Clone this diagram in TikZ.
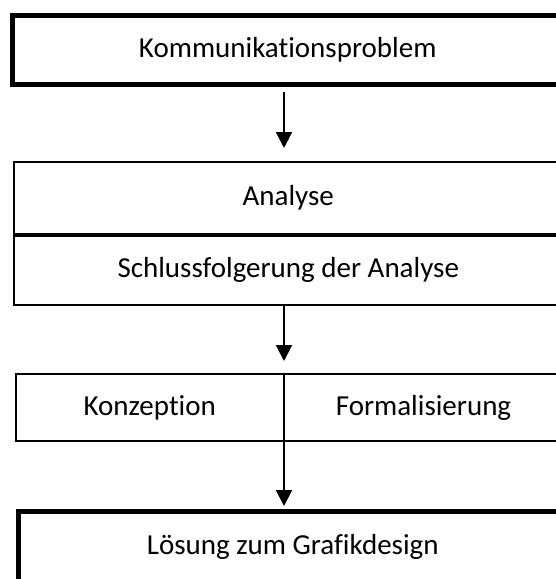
\documentclass[tikz,border=0pt]{standalone}
\usepackage{fontspec}
\setmainfont{Carlito}[Ligatures={NoCommon,NoContextual}]
\usetikzlibrary{arrows.meta}
\begin{document}
\begin{tikzpicture}[x=1pt,y=-1pt,
  box/.style={draw=black, line width=2pt, inner sep=0pt, font=\fontsize{29}{34}\selectfont},
  thickbox/.style={box, line width=5pt},
  conn/.style={line width=2pt, -{Triangle[width=16pt,length=16pt]}}]
\useasboundingbox (0,0) rectangle (556,579);
\clip (0,0) rectangle (556,579);
\coordinate (ax) at (284,0);
% Box 1
\node[thickbox, minimum width=550.5pt, minimum height=69pt] (b1) at (287.75,50) {Kommunikationsproblem};
% Box 2
\node[box, minimum width=549.5pt, minimum height=72pt] (b2a) at (288.25,198) {Analyse};
\node[box, minimum width=549.5pt, minimum height=71pt] (b2b) at (288.25,269.5) {Schlussfolgerung der Analyse};
\draw[line width=3pt] (b2a.south west) -- (b2a.south east);
% Box 3
\node[box, minimum width=268.5pt, minimum height=67pt] (b3a) at (149.75,407.5) {Konzeption};
\node[box, minimum width=279pt, minimum height=67pt] (b3b) at (423.5,407.5) {Formalisierung};
% Box 4
\node[thickbox, minimum width=548.5pt, minimum height=70.5pt] (b4) at (292.75,546.75) {Lösung zum Grafikdesign};
% Connectors
\draw[conn, shorten <=4.7pt, shorten >=13pt] (b1.south -| ax) -- (b2a.north -| ax);
\draw[conn, shorten >=12pt] (b2b.south -| ax) -- (b3a.north -| ax);
\draw[conn, shorten >=3pt] (b3a.south -| ax) -- (b4.north -| ax);
\end{tikzpicture}
\end{document}
